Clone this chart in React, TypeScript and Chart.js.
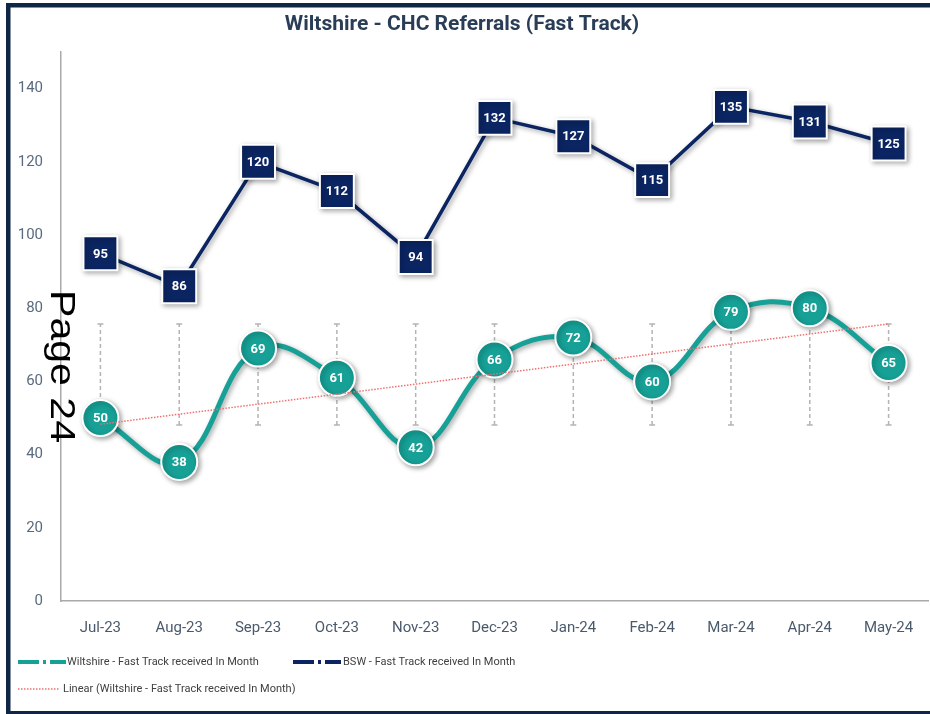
import React, { useEffect, useRef } from 'react';
import { Chart, registerables } from 'chart.js';
Chart.register(...registerables);

const categories = ['Jul-23', 'Aug-23', 'Sep-23', 'Oct-23', 'Nov-23', 'Dec-23', 'Jan-24', 'Feb-24', 'Mar-24', 'Apr-24', 'May-24'];
const wiltshire = [50, 38, 69, 61, 42, 66, 72, 60, 79, 80, 65];
const bsw = [95, 86, 120, 112, 94, 132, 127, 115, 135, 131, 125];
const trend = [48.3, null, null, null, null, null, null, null, null, null, 75.7];
const errLow = [48.1, 48.1, 48.1, 48.1, 48.1, 48.1, 48.1, 48.1, 48.1, 48.1, 48.1];
const errHigh = [75.7, 75.7, 75.7, 75.7, 75.7, 75.7, 75.7, 75.7, 75.7, 75.7, 75.7];
const yTicks = [0, 20, 40, 60, 80, 100, 120, 140];

const TITLE = 'Wiltshire - CHC Referrals (Fast Track)';
const LEG_W = 'Wiltshire - Fast Track received In Month';
const LEG_B = 'BSW - Fast Track received In Month';
const LEG_T = 'Linear (Wiltshire - Fast Track received In Month)';
const TEAL = '#16a096';
const NAVY = '#0b2562';
const FRAME = '#0f2644';

const decorPlugin = {
  id: 'decor',
  beforeDraw(chart: any) {
    const ctx = chart.ctx;
    ctx.save();
    ctx.fillStyle = '#ffffff';
    ctx.fillRect(0, 0, chart.width, chart.height);
    ctx.fillStyle = FRAME;
    ctx.fillRect(6, 3, chart.width - 6, 4.5);
    ctx.fillRect(6, 3, 4.5, chart.height - 3);
    ctx.fillRect(6, chart.height - 3, chart.width - 6, 3);
    ctx.restore();
  },
  beforeDatasetsDraw(chart: any) {
    const ctx = chart.ctx;
    const xs = chart.scales.x;
    const ys = chart.scales.y;
    ctx.save();
    ctx.strokeStyle = '#b4b4b4';
    ctx.lineWidth = 1.5;
    for (let i = 0; i < categories.length; i++) {
      const x = xs.getPixelForValue(i);
      const y1 = ys.getPixelForValue(errLow[i]);
      const y2 = ys.getPixelForValue(errHigh[i]);
      ctx.setLineDash([4, 3]);
      ctx.beginPath();
      ctx.moveTo(x, y1);
      ctx.lineTo(x, y2);
      ctx.stroke();
      ctx.setLineDash([]);
      ctx.beginPath();
      ctx.moveTo(x - 3, y1);
      ctx.lineTo(x + 3, y1);
      ctx.moveTo(x - 3, y2);
      ctx.lineTo(x + 3, y2);
      ctx.stroke();
    }
    ctx.restore();
  },
  beforeDatasetDraw(chart: any, args: any) {
    if (args.index === 0 || args.index === 1) {
      const ctx = chart.ctx;
      ctx.save();
      ctx.shadowColor = 'rgba(0,0,0,0.35)';
      ctx.shadowBlur = 5;
      ctx.shadowOffsetX = 2;
      ctx.shadowOffsetY = 2;
    }
  },
  afterDatasetDraw(chart: any, args: any) {
    if (args.index === 0 || args.index === 1) {
      chart.ctx.restore();
    }
  },
  afterDatasetsDraw(chart: any) {
    const ctx = chart.ctx;
    ctx.save();
    ctx.fillStyle = '#ffffff';
    ctx.font = 'bold 13px Roboto';
    ctx.textAlign = 'center';
    ctx.textBaseline = 'middle';
    [0, 1].forEach((di) => {
      const meta = chart.getDatasetMeta(di);
      const vals = di === 0 ? wiltshire : bsw;
      meta.data.forEach((pt: any, i: number) => {
        ctx.fillText(String(vals[i]), pt.x, pt.y + 1);
      });
    });
    ctx.restore();
  },
  afterDraw(chart: any) {
    const ctx = chart.ctx;
    ctx.save();
    // title
    ctx.fillStyle = '#2a3d56';
    ctx.font = 'bold 21px Roboto';
    ctx.textAlign = 'center';
    ctx.textBaseline = 'middle';
    ctx.fillText(TITLE, 462, 25);

    // legend
    ctx.textAlign = 'left';
    ctx.font = '11px Roboto';
    ctx.fillStyle = '#404040';
    const drawDashDot = (x: number, y: number, color: string) => {
      ctx.strokeStyle = color;
      ctx.lineWidth = 4;
      ctx.lineCap = 'butt';
      ctx.beginPath();
      ctx.moveTo(x, y); ctx.lineTo(x + 21, y);
      ctx.moveTo(x + 25, y); ctx.lineTo(x + 28, y);
      ctx.moveTo(x + 32, y); ctx.lineTo(x + 48, y);
      ctx.stroke();
    };
    drawDashDot(18, 662, TEAL);
    ctx.fillText(LEG_W, 67, 662);
    drawDashDot(293, 662, NAVY);
    ctx.fillText(LEG_B, 343, 662);
    ctx.strokeStyle = '#f07070';
    ctx.lineWidth = 1.5;
    ctx.setLineDash([1.5, 1.5]);
    ctx.beginPath();
    ctx.moveTo(18, 689); ctx.lineTo(60, 689);
    ctx.stroke();
    ctx.setLineDash([]);
    ctx.fillText(LEG_T, 63, 689);

    // page overlay
    ctx.fillStyle = '#000000';
    ctx.font = '35px "Liberation Sans"';
    ctx.textBaseline = 'alphabetic';
    const w = ctx.measureText('Page 24').width;
    ctx.translate(51, 290);
    ctx.rotate(Math.PI / 2);
    ctx.scale(153 / w, 1);
    ctx.fillText('Page 24', 0, 0);
    ctx.restore();
  },
};

export default function App() {
  const ref = useRef<HTMLCanvasElement | null>(null);
  useEffect(() => {
    if (!ref.current) return;
    const chart = new Chart(ref.current, {
      type: 'line',
      data: {
        labels: categories,
        datasets: [
          {
            label: LEG_W,
            data: wiltshire,
            borderColor: TEAL,
            backgroundColor: TEAL,
            borderWidth: 5,
            tension: 0.4,
            pointStyle: 'circle',
            pointRadius: 18,
            pointBorderColor: '#ffffff',
            pointBorderWidth: 2,
            pointBackgroundColor: TEAL,
            clip: false,
            order: 2,
          },
          {
            label: LEG_B,
            data: bsw,
            borderColor: NAVY,
            backgroundColor: NAVY,
            borderWidth: 3.5,
            tension: 0,
            pointStyle: 'rect',
            pointRadius: 24,
            pointBorderColor: '#ffffff',
            pointBorderWidth: 2,
            pointBackgroundColor: NAVY,
            clip: false,
            order: 1,
          },
          {
            label: LEG_T,
            data: trend,
            borderColor: '#f07070',
            borderWidth: 1.5,
            borderDash: [1.5, 1.5],
            pointRadius: 0,
            spanGaps: true,
            order: 0,
          },
        ],
      },
      options: {
        animation: false,
        responsive: false,
        layout: { autoPadding: false, padding: { top: 52, right: 2, left: 0, bottom: 0 } },
        plugins: { legend: { display: false }, tooltip: { enabled: false }, title: { display: false } },
        scales: {
          x: {
            type: 'category',
            offset: true,
            grid: { display: false, drawTicks: false },
            border: { display: true, color: '#a9a9a9', width: 1.5 },
            ticks: { color: '#4a5a6d', font: { size: 15, family: 'Roboto' }, padding: 18, maxRotation: 0 },
            afterFit: (s: any) => { s.height = 113; s.paddingLeft = 0; s.paddingRight = 0; },
          },
          y: {
            min: 0,
            max: 150,
            grid: { display: false, drawTicks: false },
            border: { display: true, color: '#a9a9a9', width: 1.5 },
            ticks: { color: '#5a6b7e', font: { size: 15, family: 'Roboto' }, padding: 18 },
            afterBuildTicks: (s: any) => { s.ticks = yTicks.map((v) => ({ value: v })); },
            afterFit: (s: any) => { s.width = 61; s.paddingTop = 0; s.paddingBottom = 0; },
          },
        },
      },
      plugins: [decorPlugin],
    });
    return () => chart.destroy();
  }, []);
  return (
    <div style={{ position: 'fixed', left: 0, top: 0, width: 930, height: 714 }}>
      <canvas ref={ref} width={930} height={714} style={{ display: 'block' }} />
    </div>
  );
}
